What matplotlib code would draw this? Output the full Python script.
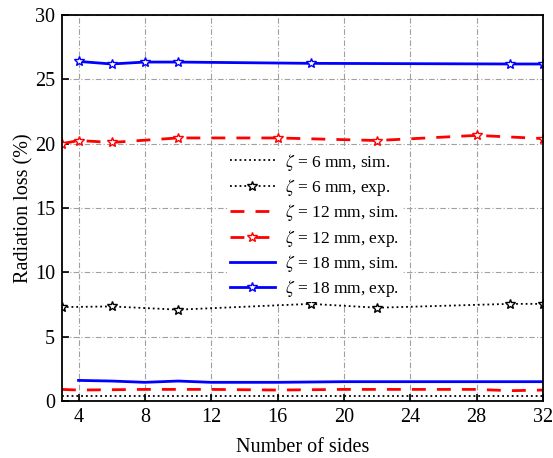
import matplotlib
matplotlib.use("Agg")
import matplotlib.pyplot as plt

plt.rcParams['font.family'] = 'Liberation Serif'
plt.rcParams['mathtext.fontset'] = 'stix'

# --- data ---
sim6_x = [3, 32]
sim6_y = [0.35, 0.35]
exp6_x = [3, 6, 10, 18, 22, 30, 32]
exp6_y = [7.3, 7.35, 7.1, 7.55, 7.25, 7.55, 7.55]

sim12_x = [3, 4, 8, 12, 16, 20, 24, 28, 30, 32]
sim12_y = [0.9, 0.85, 0.9, 0.9, 0.85, 0.9, 0.9, 0.9, 0.8, 0.85]
exp12_x = [3, 4, 6, 10, 16, 22, 28, 32]
exp12_y = [20.0, 20.25, 20.1, 20.45, 20.45, 20.25, 20.65, 20.4]

sim18_x = [4, 6, 8, 10, 12, 16, 20, 24, 28, 32]
sim18_y = [1.6, 1.55, 1.45, 1.55, 1.45, 1.45, 1.5, 1.5, 1.5, 1.5]
exp18_x = [4, 6, 8, 10, 18, 30, 32]
exp18_y = [26.4, 26.2, 26.35, 26.35, 26.25, 26.2, 26.2]

fig = plt.figure(figsize=(5.53, 4.58), dpi=100)
ax = fig.add_axes([0.112, 0.1245, 0.870, 0.8425])

mk = dict(marker='*', markersize=7.5, markerfacecolor='white', markeredgewidth=1.0)

ax.plot(sim6_x, sim6_y, color='black', linestyle=':', linewidth=1.3,
        label=r'$\zeta$ = 6 mm, sim.')
ax.plot(exp6_x, exp6_y, color='black', linestyle=':', linewidth=1.3,
        markeredgecolor='black', label=r'$\zeta$ = 6 mm, exp.', **mk)
ax.plot(sim12_x, sim12_y, color='red', linestyle=(0, (5, 4)), linewidth=2,
        label=r'$\zeta$ = 12 mm, sim.')
ax.plot(exp12_x, exp12_y, color='red', linestyle=(0, (5, 4)), linewidth=2,
        markeredgecolor='red', label=r'$\zeta$ = 12 mm, exp.', **mk)
ax.plot(sim18_x, sim18_y, color='blue', linestyle='-', linewidth=2,
        label=r'$\zeta$ = 18 mm, sim.')
ax.plot(exp18_x, exp18_y, color='blue', linestyle='-', linewidth=2,
        markeredgecolor='blue', label=r'$\zeta$ = 18 mm, exp.', **mk)

ax.set_xlim(3, 32)
ax.set_ylim(0, 30)
ax.set_xticks(range(4, 33, 4))
ax.set_yticks(range(0, 31, 5))
ax.tick_params(direction='in', length=5, width=1.2, labelsize=14.5,
               top=False, right=False, pad=5)
for s in ax.spines.values():
    s.set_linewidth(1.3)

ax.grid(True, color='#a0a0a0', linestyle=(0, (5, 2, 1, 2)), linewidth=0.8)
ax.set_axisbelow(True)

ax.set_xlabel('Number of sides', fontsize=14.5, labelpad=8)
ax.set_ylabel('Radiation loss (%)', fontsize=14.5, labelpad=1)

leg = ax.legend(loc='center', bbox_to_anchor=(0.525, 0.455), fontsize=12.5,
                frameon=True, framealpha=1, edgecolor='none', fancybox=False,
                handlelength=2.6, handletextpad=0.6, labelspacing=0.25,
                borderpad=0.15)

fig.savefig('out.png', dpi=100)
